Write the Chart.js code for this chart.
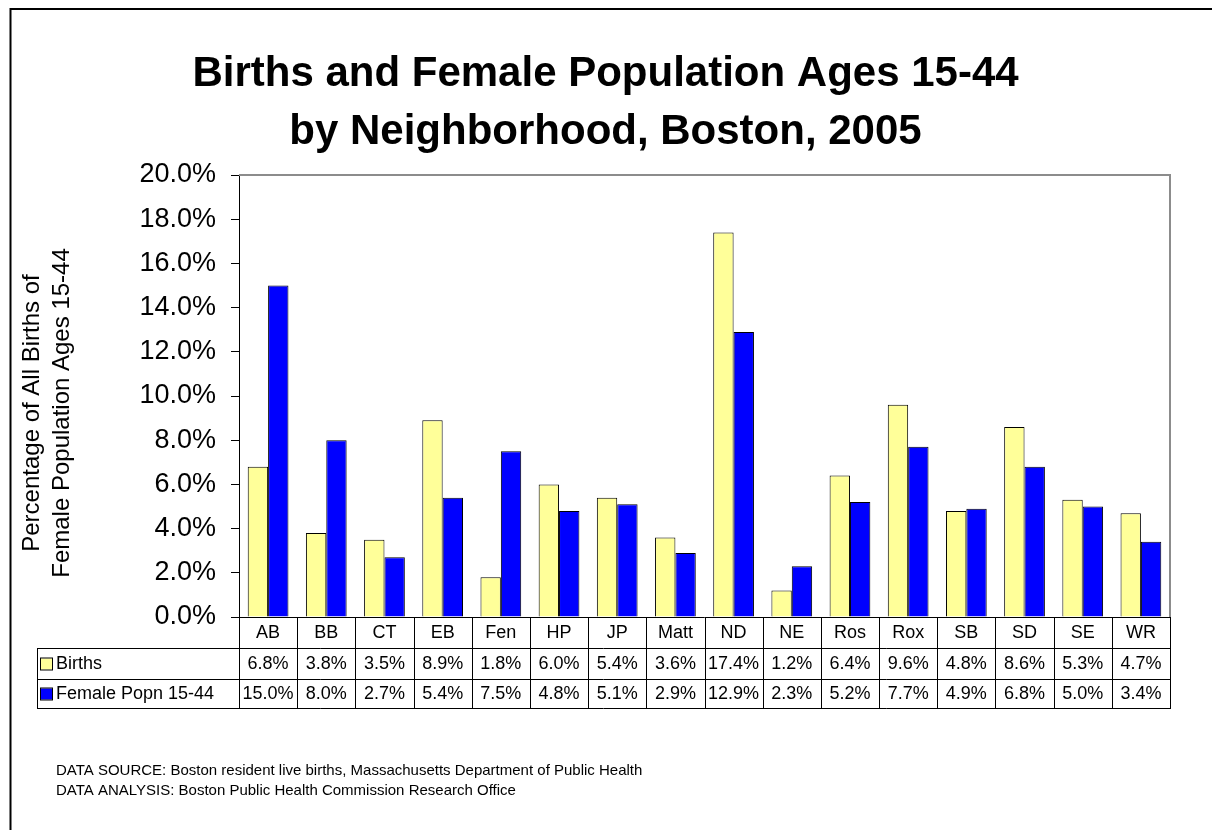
<!DOCTYPE html>
<html>
<head>
<meta charset="utf-8">
<script src="https://cdn.jsdelivr.net/npm/chart.js@4.4.1/dist/chart.umd.min.js"></script>
<style>
  html, body { margin: 0; padding: 0; background: #fff; }
  canvas { display: block; }
</style>
</head>
<body>
<canvas id="c" width="1212" height="830"></canvas>
<script>
const categories = ['AB','BB','CT','EB','Fen','HP','JP','Matt','ND','NE','Ros','Rox','SB','SD','SE','WR'];
const births = [6.8,3.8,3.5,8.9,1.8,6.0,5.4,3.6,17.4,1.2,6.4,9.6,4.8,8.6,5.3,4.7];
const femalePopn = [15.0,8.0,2.7,5.4,7.5,4.8,5.1,2.9,12.9,2.3,5.2,7.7,4.9,6.8,5.0,3.4];
const seriesNames = ['Births','Female Popn 15-44'];
const yTickLabels = ['0.0%','2.0%','4.0%','6.0%','8.0%','10.0%','12.0%','14.0%','16.0%','18.0%','20.0%'];
const titleLines = ['Births and Female Population Ages 15-44','by Neighborhood, Boston, 2005'];
const yTitleLines = ['Percentage of All Births of','Female Population Ages 15-44'];
const footerLines = ['DATA SOURCE: Boston resident live births, Massachusetts Department of Public Health',
                     'DATA ANALYSIS: Boston Public Health Commission Research Office'];

const FONT = '"Liberation Sans", Arial, Helvetica, sans-serif';
const colors = ['#FFFF99','#0000FF'];

const decorPlugin = {
  id: 'decor',
  afterDraw(chart) {
    const ctx = chart.ctx;
    const ca = chart.chartArea;
    const xs = chart.scales.x;
    ctx.save();
    // outer frame
    ctx.strokeStyle = '#000';
    ctx.lineWidth = 2;
    ctx.beginPath();
    ctx.moveTo(10.5, 840); ctx.lineTo(10.5, 9); ctx.lineTo(1220, 9);
    ctx.stroke();
    // plot area top/right border (gray)
    ctx.strokeStyle = '#8c8c8c';
    ctx.lineWidth = 2;
    ctx.beginPath();
    ctx.moveTo(ca.left, ca.top); ctx.lineTo(ca.right, ca.top); ctx.lineTo(ca.right, ca.bottom);
    ctx.stroke();

    // y axis title
    ctx.fillStyle = '#000';
    ctx.font = '24px ' + FONT;
    ctx.textAlign = 'center';
    ctx.textBaseline = 'middle';
    const yc = 413;
    const xPos = [32, 62];
    yTitleLines.forEach((t, i) => {
      ctx.save();
      ctx.translate(xPos[i], yc);
      ctx.rotate(-Math.PI / 2);
      ctx.fillText(t, 0, 0);
      ctx.restore();
    });

    // data table
    const n = categories.length;
    const w = (ca.right - ca.left) / n;
    const r0 = ca.bottom, r1 = r0 + 31, r2 = r1 + 31, r3 = r2 + 29;
    const legLeft = 37;
    ctx.strokeStyle = '#000';
    ctx.lineWidth = 1;
    ctx.beginPath();
    ctx.moveTo(ca.left, r0 + 0.5); ctx.lineTo(ca.right, r0 + 0.5);
    [r1, r2, r3].forEach(y => { ctx.moveTo(legLeft, y + 0.5); ctx.lineTo(ca.right, y + 0.5); });
    ctx.moveTo(legLeft + 0.5, r1); ctx.lineTo(legLeft + 0.5, r3 + 1);
    for (let i = 0; i <= n; i++) {
      const x = Math.round(ca.left + i * w) + 0.5;
      ctx.moveTo(x, r0); ctx.lineTo(x, r3 + 1);
    }
    ctx.stroke();

    ctx.font = '18px ' + FONT;
    ctx.fillStyle = '#000';
    ctx.textAlign = 'center';
    ctx.textBaseline = 'middle';
    const rows = [births, femalePopn];
    for (let i = 0; i < n; i++) {
      const cx = xs.getPixelForValue(i);
      ctx.fillText(categories[i], cx, (r0 + r1) / 2 + 1);
      ctx.fillText(rows[0][i].toFixed(1) + '%', cx, (r1 + r2) / 2 + 1);
      ctx.fillText(rows[1][i].toFixed(1) + '%', cx, (r2 + r3) / 2 + 1);
    }
    // legend keys
    const rowMid = [(r1 + r2) / 2, (r2 + r3) / 2];
    ctx.textAlign = 'left';
    seriesNames.forEach((name, i) => {
      const ym = rowMid[i];
      ctx.fillStyle = colors[i];
      ctx.fillRect(41, ym - 5, 11, 11);
      ctx.strokeStyle = '#000';
      ctx.lineWidth = 1;
      ctx.strokeRect(40.5, ym - 5.5, 12, 12);
      ctx.fillStyle = '#000';
      ctx.fillText(name, 56, ym + 1);
    });

    // footer
    ctx.font = '15px ' + FONT;
    ctx.textBaseline = 'alphabetic';
    ctx.fillText(footerLines[0], 56, 775);
    ctx.fillText(footerLines[1], 56, 795);
    ctx.restore();
  }
};

new Chart(document.getElementById('c'), {
  type: 'bar',
  data: {
    labels: categories,
    datasets: [
      { label: seriesNames[0], data: births, backgroundColor: colors[0], borderColor: '#000', borderWidth: 1, categoryPercentage: 0.7, barPercentage: 1.0 },
      { label: seriesNames[1], data: femalePopn, backgroundColor: colors[1], borderColor: '#000', borderWidth: 1, categoryPercentage: 0.7, barPercentage: 1.0 }
    ]
  },
  options: {
    responsive: false,
    animation: false,
    devicePixelRatio: 1,
    layout: { padding: { left: 11, right: 12, top: 9, bottom: 213 } },
    plugins: {
      legend: { display: false },
      tooltip: { enabled: false },
      title: {
        display: true,
        text: titleLines,
        color: '#000',
        font: { family: FONT, size: 42, weight: 'bold', lineHeight: 1.381 },
        padding: { top: 36, bottom: 14 }
      }
    },
    scales: {
      x: { display: false, offset: true },
      y: {
        min: 0, max: 20,
        ticks: {
          stepSize: 2,
          color: '#000',
          padding: 15,
          font: { family: FONT, size: 27 },
          callback: (v, i) => yTickLabels[i]
        },
        grid: { drawOnChartArea: false, drawTicks: true, tickLength: 8, color: '#000', lineWidth: 1 },
        border: { display: true, color: '#000', width: 1 },
        afterFit(s) { s.width = 228; }
      },
      y2: {
        position: 'right',
        display: true,
        grid: { display: false },
        border: { display: false },
        ticks: { display: false },
        afterFit(s) { s.width = 30; }
      }
    }
  },
  plugins: [decorPlugin]
});
</script>
</body>
</html>
